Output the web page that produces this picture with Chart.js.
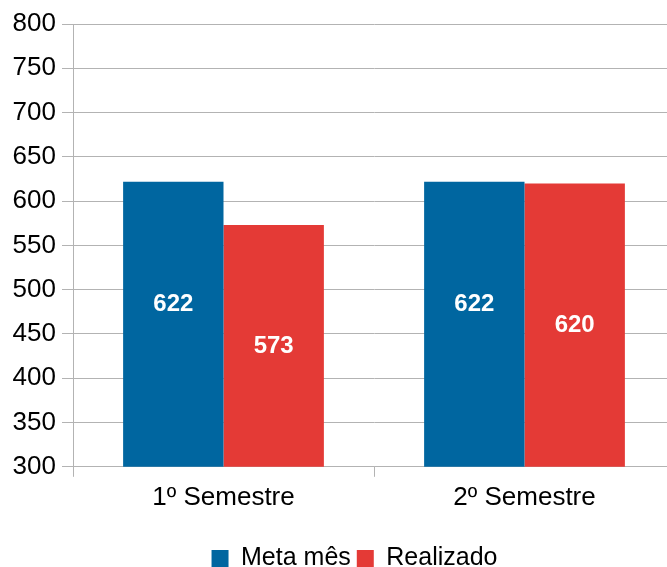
<!DOCTYPE html>
<html>
<head>
<meta charset="utf-8">
<script src="https://cdn.jsdelivr.net/npm/chart.js@4/dist/chart.umd.min.js"></script>
<style>
  html, body { margin: 0; padding: 0; background: #fff; overflow: hidden; }
  canvas { display: block; }
</style>
</head>
<body>
<canvas id="chart" width="708" height="567"></canvas>
<script>
const categories = ['1º Semestre', '2º Semestre'];
const metaMes = [622, 622];
const realizado = [573, 620];
const seriesNames = ['Meta mês', 'Realizado'];

const FONT = '"Liberation Sans", Arial, sans-serif';

// valores dentro das barras
const barLabels = {
    id: 'barLabels',
    afterDatasetsDraw(chart) {
        const ctx = chart.ctx;
        const bottom = chart.chartArea.bottom;
        ctx.save();
        ctx.fillStyle = '#ffffff';
        ctx.font = 'bold 24px ' + FONT;
        ctx.textAlign = 'center';
        ctx.textBaseline = 'middle';
        chart.data.datasets.forEach((ds, i) => {
            const meta = chart.getDatasetMeta(i);
            meta.data.forEach((bar, j) => {
                const base = Math.min(bar.base, bottom);
                const y = (bar.y + base) / 2 + (ds.labelShift || 0);
                ctx.fillText(ds.data[j], bar.x, y);
            });
        });
        ctx.restore();
    }
};

// legenda um pouco deslocada para a direita
const legendShift = {
    id: 'legendShift',
    afterLayout(chart) {
        const lg = chart.legend;
        if (!lg) return;
        lg.left += 17;
        lg.right += 17;
    }
};

new Chart(document.getElementById('chart'), {
    type: 'bar',
    data: {
        labels: categories,
        datasets: [
            {
                label: seriesNames[0],
                data: metaMes,
                backgroundColor: '#0066a0',
                labelShift: -20,
            },
            {
                label: seriesNames[1],
                data: realizado,
                backgroundColor: '#e43a36',
            },
        ],
    },
    options: {
        responsive: false,
        animation: false,
        devicePixelRatio: 1,
        layout: { padding: { top: 24, left: 0, right: 33, bottom: -14 } },
        datasets: {
            bar: { categoryPercentage: 0.667, barPercentage: 1.0 },
        },
        scales: {
            x: {
                afterFit(scale) { scale.height += 22; },
                grid: {
                    offset: true,
                    drawOnChartArea: false,
                    color: '#b3b3b3',
                    tickLength: 10,
                },
                border: { color: '#b3b3b3' },
                ticks: { color: '#000', font: { family: FONT, size: 26 }, padding: 5 },
            },
            y: {
                min: 300,
                max: 800,
                afterFit(scale) { scale.width = 73; },
                grid: { color: '#b3b3b3', tickLength: 11 },
                border: { color: '#b3b3b3' },
                ticks: { stepSize: 50, color: '#000', font: { family: FONT, size: 26 }, padding: 6 },
            },
        },
        plugins: {
            legend: {
                position: 'bottom',
                labels: {
                    color: '#000',
                    font: { family: FONT, size: 25 },
                    boxWidth: 17,
                    boxHeight: 17,
                    padding: 6,
                },
            },
            tooltip: { enabled: false },
        },
    },
    plugins: [barLabels, legendShift],
});
</script>
</body>
</html>
